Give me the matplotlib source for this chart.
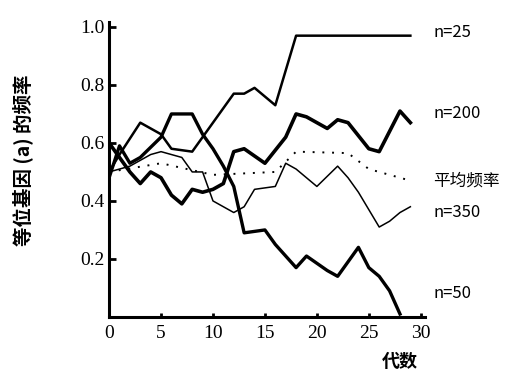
import matplotlib.pyplot as plt

plt.rcParams['font.family'] = ['Liberation Serif', 'Noto Sans CJK SC']

# 各条曲线的数据 (代数, 频率)
gen_25 = [0, 1, 3, 5, 6, 8, 9, 11, 12, 13, 14, 16, 18, 29]
freq_25 = [0.50, 0.56, 0.67, 0.63, 0.58, 0.57, 0.62, 0.72, 0.77, 0.77, 0.79, 0.73, 0.97, 0.97]

gen_50 = [0, 1, 2, 3, 5, 6, 8, 9, 10, 11, 12, 13, 15, 16, 18, 19, 21, 22, 24, 25, 26, 27, 28]
freq_50 = [0.48, 0.59, 0.53, 0.55, 0.62, 0.70, 0.70, 0.63, 0.58, 0.52, 0.45, 0.29, 0.30, 0.25,
           0.17, 0.21, 0.16, 0.14, 0.24, 0.17, 0.14, 0.09, 0.01]

gen_200 = [0, 1, 2, 3, 4, 5, 6, 7, 8, 9, 10, 11, 12, 13, 15, 17, 18, 19, 20, 21, 22, 23, 25, 26, 28, 29]
freq_200 = [0.60, 0.55, 0.50, 0.46, 0.50, 0.48, 0.42, 0.39, 0.44, 0.43, 0.44, 0.46, 0.57, 0.58,
            0.53, 0.62, 0.70, 0.69, 0.67, 0.65, 0.68, 0.67, 0.58, 0.57, 0.71, 0.67]

gen_350 = [0, 2, 4, 5, 7, 8, 9, 10, 12, 13, 14, 16, 17, 18, 20, 22, 23, 24, 26, 27, 28, 29]
freq_350 = [0.50, 0.52, 0.56, 0.57, 0.55, 0.50, 0.50, 0.40, 0.36, 0.38, 0.44, 0.45, 0.53, 0.51,
            0.45, 0.52, 0.48, 0.43, 0.31, 0.33, 0.36, 0.38]

gen_mean = [0, 5, 10, 16, 18, 23, 25, 29]
freq_mean = [0.50, 0.53, 0.49, 0.50, 0.57, 0.565, 0.51, 0.47]

labels = ['n=25', 'n=200', '平均频率', 'n=350', 'n=50']
label_y = [0.98, 0.70, 0.47, 0.36, 0.08]

fig = plt.figure(figsize=(5.22, 3.80), dpi=100)
ax = fig.add_axes([0.209, 0.166, 0.605, 0.776])

ax.plot(gen_25, freq_25, color='black', linewidth=1.8)
ax.plot(gen_50, freq_50, color='black', linewidth=2.4)
ax.plot(gen_200, freq_200, color='black', linewidth=2.6)
ax.plot(gen_350, freq_350, color='black', linewidth=1.1)
ax.plot(gen_mean, freq_mean, color='black', linewidth=1.4, linestyle=(0, (1, 4)))

# 右侧标注
for txt, yv in zip(labels, label_y):
    ax.text(31.2, yv, txt, fontsize=12, va='center', ha='left', clip_on=False,
            family=['Liberation Sans Narrow', 'Noto Sans CJK SC'])

ax.set_xlim(0, 30.4)
ax.set_ylim(0, 1.017)
ax.set_xticks([0, 5, 10, 15, 20, 25, 30])
ax.set_yticks([0.2, 0.4, 0.6, 0.8, 1.0])
ax.set_yticklabels(['0.2', '0.4', '0.6', '0.8', '1.0'])
ax.tick_params(direction='in', length=5, width=2, labelsize=14)
ax.tick_params(axis='x', length=3, pad=6)
ax.tick_params(axis='y', pad=3)

for s in ['top', 'right']:
    ax.spines[s].set_visible(False)
for s in ['left', 'bottom']:
    ax.spines[s].set_linewidth(2.2)

ax.set_ylabel('等位基因 (a) 的频率', fontsize=14, family=['Noto Sans CJK SC'], fontweight='bold')
ax.yaxis.set_label_coords(-0.24, 0.53)
ax.text(28.0, -0.155, '代数', fontsize=13, ha='center', va='center', family=['Noto Sans CJK SC'],
        fontweight='bold', clip_on=False)

fig.savefig('out.png', dpi=100)
